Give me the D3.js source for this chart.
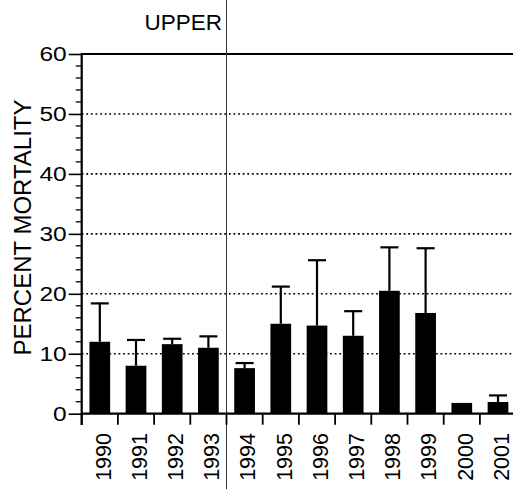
<!DOCTYPE html>
<html>
<head>
<meta charset="utf-8">
<script src="https://cdn.jsdelivr.net/npm/d3@7"></script>
<style>
html,body{margin:0;padding:0;background:#fff;}
svg{display:block;}
text{font-family:"Liberation Sans",Arial,Helvetica,sans-serif;fill:#000;}
</style>
</head>
<body>
<svg id="chart" width="513" height="489"></svg>
<script>
const years = ["1990","1991","1992","1993","1994","1995","1996","1997","1998","1999","2000","2001"];
const mortality = [12.0, 8.0, 11.6, 11.0, 7.6, 15.0, 14.7, 13.0, 20.5, 16.8, 1.8, 1.95];
const errorTop = [18.4, 12.3, 12.5, 12.9, 8.45, 21.2, 25.6, 17.1, 27.75, 27.6, null, 3.05];
const yTicks = [0, 10, 20, 30, 40, 50, 60];
const gridValues = [10, 20, 30, 40, 50];
const yMinor = d3.range(0, 61, 2).filter(v => v % 10 !== 0);
const title = "UPPER";
const yTitle = "PERCENT MORTALITY";
const dividerAfter = "1993";

const svg = d3.select("#chart");
const x0 = 81.7, bw = 36.2;
const x = d3.scaleBand().domain(years).range([x0, x0 + bw * years.length]).padding(0);
const y = d3.scaleLinear().domain([0, 60]).range([413.7, 54]);

// gridlines
svg.append("g").selectAll("line").data(gridValues).join("line")
  .attr("x1", x0).attr("x2", 513)
  .attr("y1", d => y(d)).attr("y2", d => y(d))
  .attr("stroke", "#000").attr("stroke-width", 1.6)
  .attr("stroke-dasharray", "1.8,2.8");

// top solid line at 60
svg.append("line").attr("x1", x0).attr("x2", 513)
  .attr("y1", y(60)).attr("y2", y(60))
  .attr("stroke", "#000").attr("stroke-width", 2.2);

// divider vertical line
const divX = x(dividerAfter) + x.bandwidth();
svg.append("line").attr("x1", divX).attr("x2", divX)
  .attr("y1", 0).attr("y2", 489)
  .attr("stroke", "#333").attr("stroke-width", 1);

// bars
const barW = 20.7;
svg.append("g").selectAll("rect").data(years).join("rect")
  .attr("x", d => x(d) + x.bandwidth() / 2 - barW / 2)
  .attr("width", barW)
  .attr("y", (d, i) => y(mortality[i]))
  .attr("height", (d, i) => y(0) - y(mortality[i]))
  .attr("fill", "#000");

// error bars
const capW = 18;
const eg = svg.append("g").attr("stroke", "#000").attr("stroke-width", 2.2);
years.forEach((d, i) => {
  if (errorTop[i] == null) return;
  const cx = x(d) + x.bandwidth() / 2;
  eg.append("line").attr("x1", cx).attr("x2", cx)
    .attr("y1", y(mortality[i])).attr("y2", y(errorTop[i]));
  eg.append("line").attr("x1", cx - capW / 2).attr("x2", cx + capW / 2)
    .attr("y1", y(errorTop[i])).attr("y2", y(errorTop[i]));
});

// y axis
const yAxis = d3.axisLeft(y).tickValues(yTicks).tickSize(13).tickPadding(2).tickFormat(d3.format("d"));
const ya = svg.append("g").attr("transform", `translate(${x0},0)`).call(yAxis);
ya.select(".domain").remove();
ya.selectAll(".tick line").attr("stroke", "#000").attr("stroke-width", 1.6);
ya.selectAll(".tick text").attr("font-size", 20)
  .attr("font-family", "Liberation Sans, Arial, sans-serif").attr("fill", "#000")
  .attr("textLength", d => String(d).length * 13.6)
  .attr("lengthAdjust", "spacingAndGlyphs");
svg.append("line").attr("x1", x0).attr("x2", x0).attr("y1", y(60) - 1).attr("y2", 425)
  .attr("stroke", "#000").attr("stroke-width", 2.2);
svg.append("g").selectAll("line").data(yMinor).join("line")
  .attr("x1", x0 - 6).attr("x2", x0 + 1)
  .attr("y1", d => y(d)).attr("y2", d => y(d))
  .attr("stroke", "#000").attr("stroke-width", 1.3);

// x axis
svg.append("line").attr("x1", x0).attr("x2", 513).attr("y1", y(0)).attr("y2", y(0))
  .attr("stroke", "#000").attr("stroke-width", 2.2);
svg.append("g").selectAll("line").data(years).join("line")
  .attr("x1", d => x(d)).attr("x2", d => x(d))
  .attr("y1", y(0)).attr("y2", y(0) + 11)
  .attr("stroke", "#000").attr("stroke-width", 1.8);
svg.append("g").selectAll("text").data(years).join("text")
  .attr("transform", d => `translate(${x(d) + x.bandwidth() / 2 + 10.8},433) rotate(-90)`)
  .attr("text-anchor", "end")
  .attr("font-size", 21.5)
  .text(d => d);

// titles
svg.append("text").attr("x", 222).attr("y", 30).attr("text-anchor", "end")
  .attr("font-size", 22.5).text(title);
svg.append("text")
  .attr("transform", `translate(31,227.5) rotate(-90)`)
  .attr("text-anchor", "middle").attr("font-size", 24).text(yTitle);
</script>
</body>
</html>
